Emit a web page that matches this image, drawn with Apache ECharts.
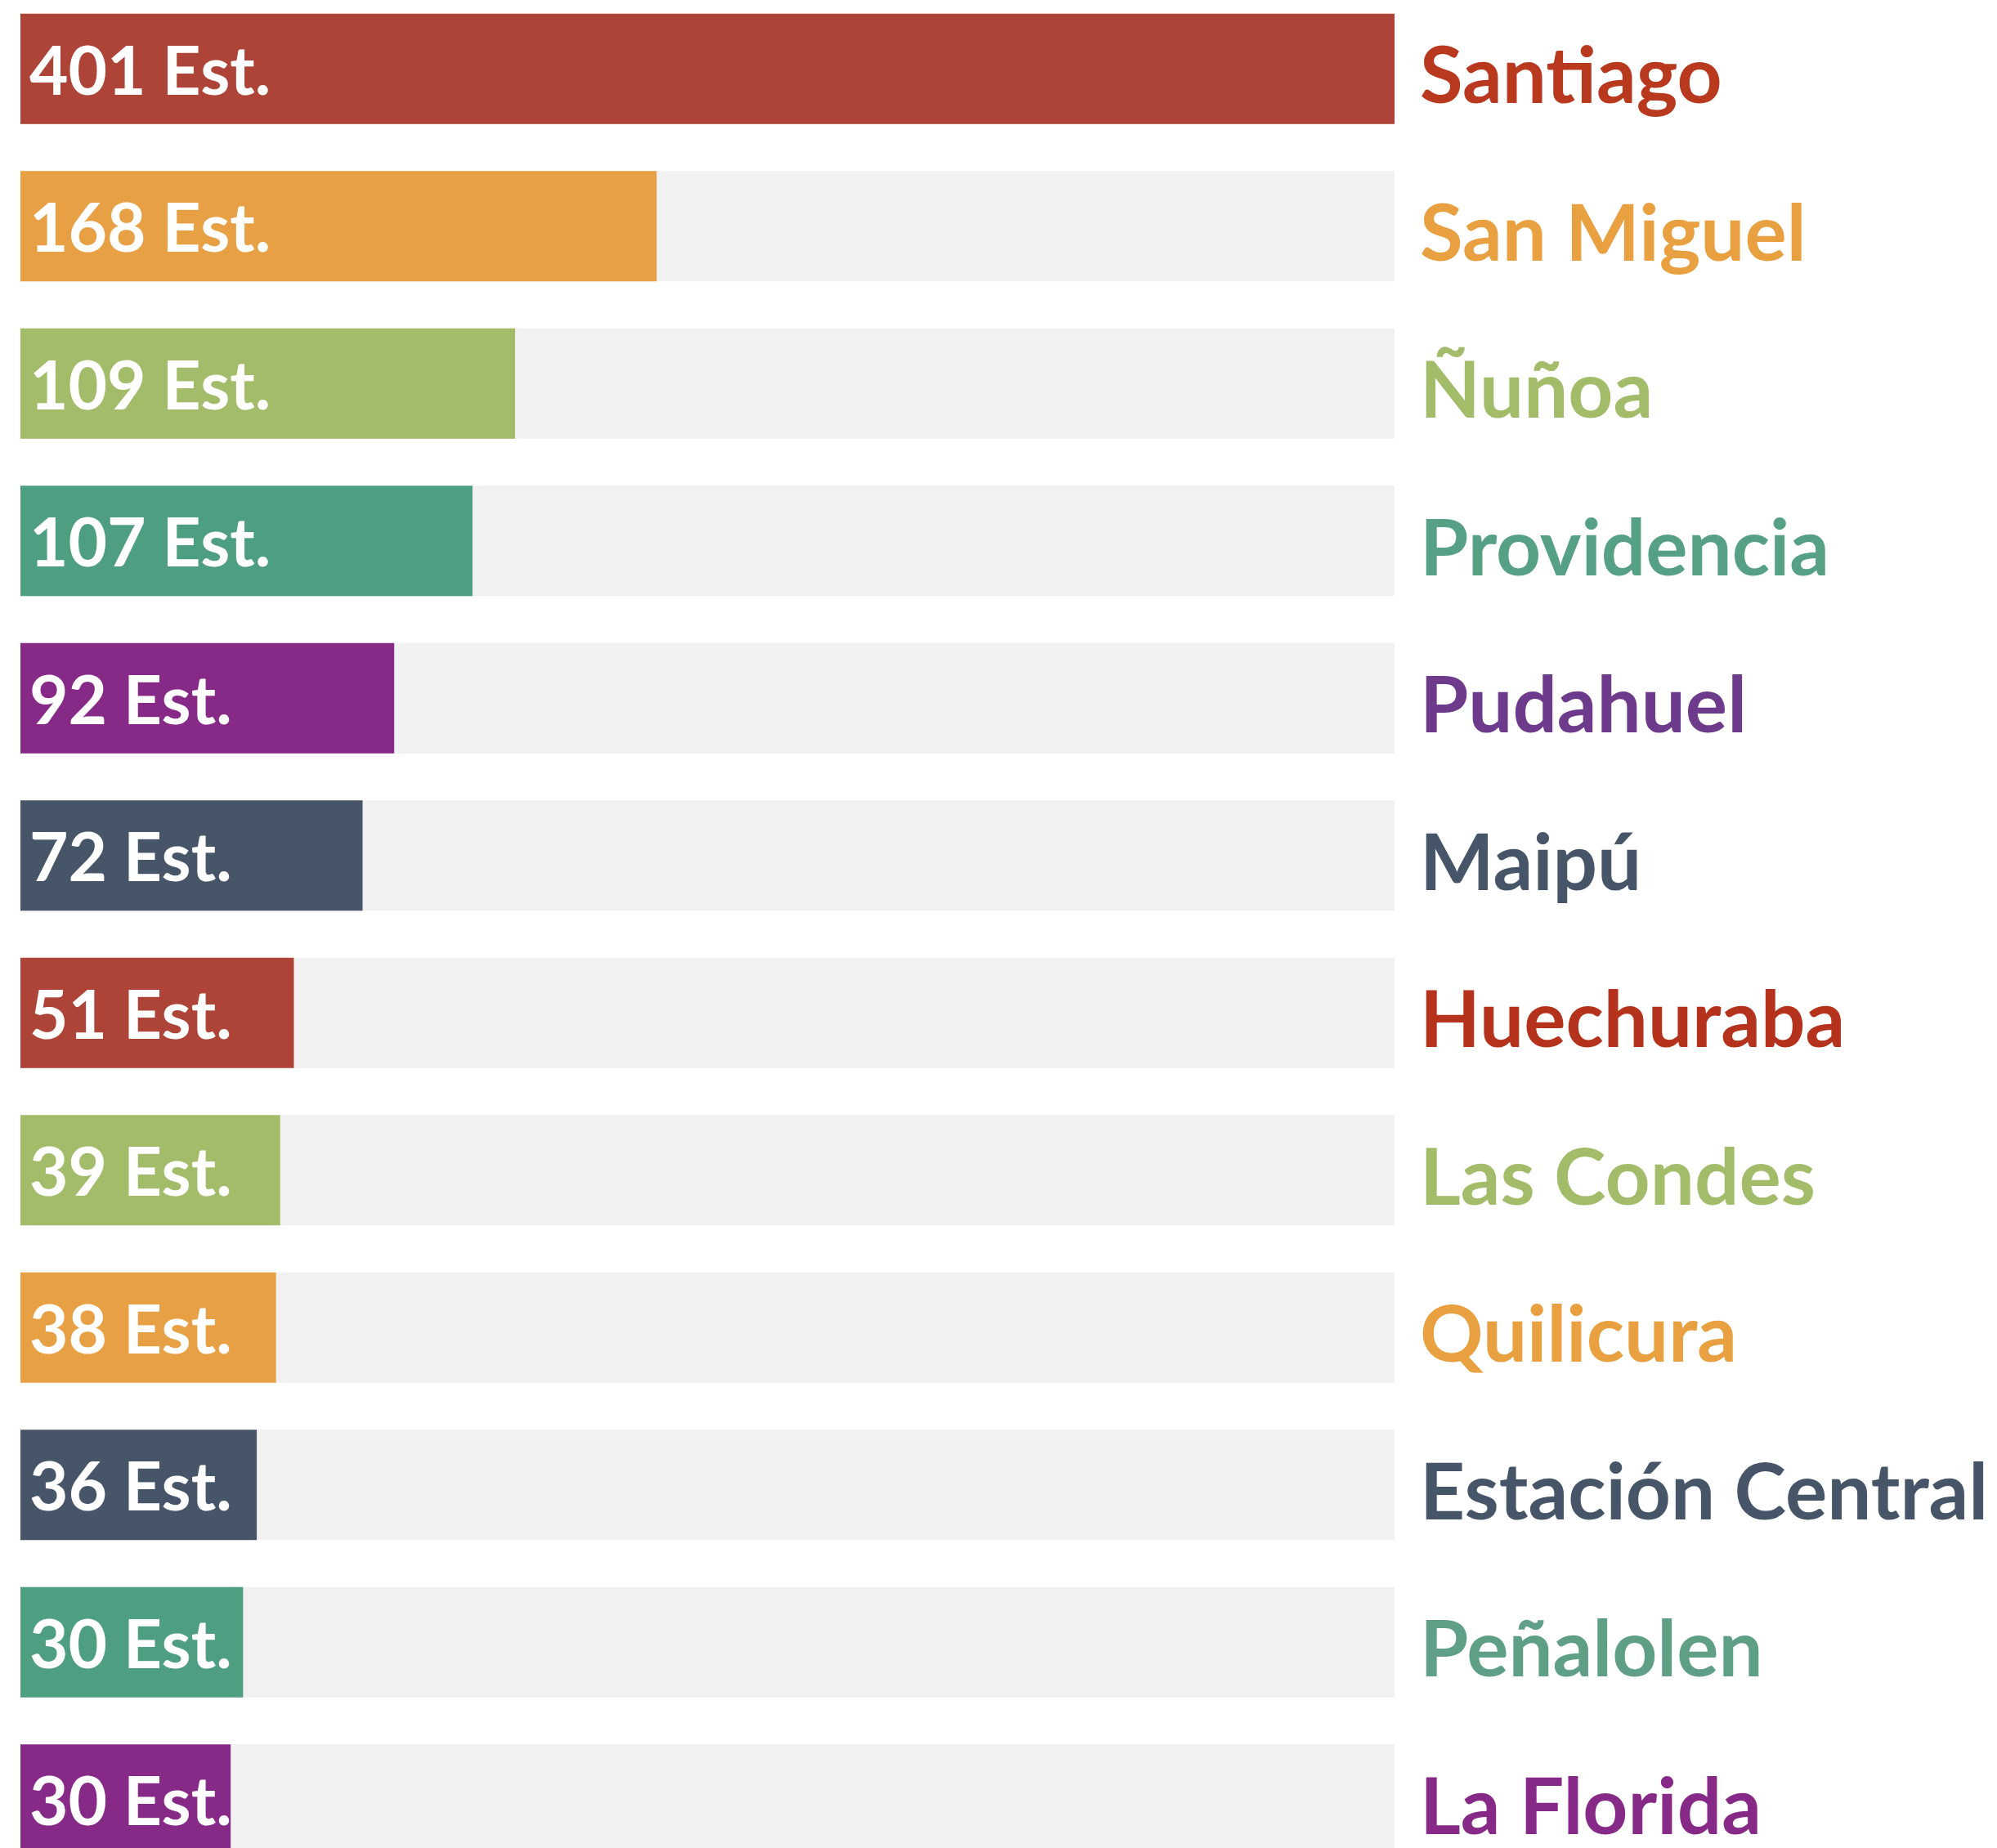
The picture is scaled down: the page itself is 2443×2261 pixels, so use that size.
<!DOCTYPE html>
<html>
<head>
<meta charset="utf-8">
<script src="https://cdn.jsdelivr.net/npm/echarts@6/dist/echarts.min.js"></script>
<style>
  html, body { margin: 0; padding: 0; background: #fff; overflow: hidden; }
  #main { position: absolute; left: 0; top: -12px; width: 2443px; height: 2320px; }
</style>
</head>
<body>
<div id="main"></div>
<script>
// comunas y estudiantes
var comunas = ['Santiago', 'San Miguel', 'Ñuñoa', 'Providencia', 'Pudahuel', 'Maipú',
  'Huechuraba', 'Las Condes', 'Quilicura', 'Estación Central', 'Peñalolen', 'La Florida'];
var estudiantes = [401, 168, 109, 107, 92, 72, 51, 39, 38, 36, 30, 30];
// largo de barra (% del largo total)
var largoBarra = [100, 46.3, 36.0, 32.9, 27.2, 24.9, 19.9, 18.9, 18.6, 17.2, 16.2, 15.3];
var coloresBarra = ['#ae4437', '#e8a045', '#a3bc6a', '#4e9e82', '#872a87', '#475569',
  '#ae4437', '#a3bc6a', '#e8a045', '#475569', '#4e9e82', '#872a87'];
var coloresTexto = ['#b9391f', '#e8a040', '#a3bc6a', '#56a085', '#6e3a8c', '#475569',
  '#b5321c', '#a3bc6a', '#e8a040', '#475569', '#5e9f85', '#872a87'];

var myChart = echarts.init(document.getElementById('main'));

var rich = {};
comunas.forEach(function (c, i) {
  rich['c' + i] = {
    color: coloresTexto[i],
    fontSize: 96,
    fontWeight: 'bold',
    fontFamily: 'Lato',
    padding: [22, 0, 0, 0]
  };
});

var option = {
  animation: false,
  backgroundColor: '#ffffff',
  grid: { left: 25, top: 0, width: 1681, height: 2310, containLabel: false, outerBoundsMode: 'none' },
  xAxis: {
    type: 'value',
    min: 0,
    max: 100,
    show: false
  },
  yAxis: {
    type: 'category',
    data: comunas,
    inverse: true,
    position: 'right',
    axisLine: { show: false },
    axisTick: { show: false },
    splitLine: { show: false },
    axisLabel: {
      interval: 0,
      margin: 31,
      align: 'left',
      formatter: function (value, idx) {
        return '{c' + idx + '|' + value + '}';
      },
      rich: rich
    }
  },
  series: [
    {
      type: 'bar',
      data: largoBarra.map(function (v, i) {
        return { value: v, itemStyle: { color: coloresBarra[i] } };
      }),
      barWidth: 135,
      showBackground: true,
      backgroundStyle: { color: '#f1f1f1' },
      label: {
        show: true,
        position: 'insideLeft',
        distance: 11,
        offset: [0, 5],
        color: '#ffffff',
        fontSize: 82,
        fontWeight: 'bold',
        fontFamily: 'Lato',
        formatter: function (p) {
          return estudiantes[p.dataIndex] + ' Est.';
        }
      }
    }
  ]
};

myChart.setOption(option);
</script>
</body>
</html>
